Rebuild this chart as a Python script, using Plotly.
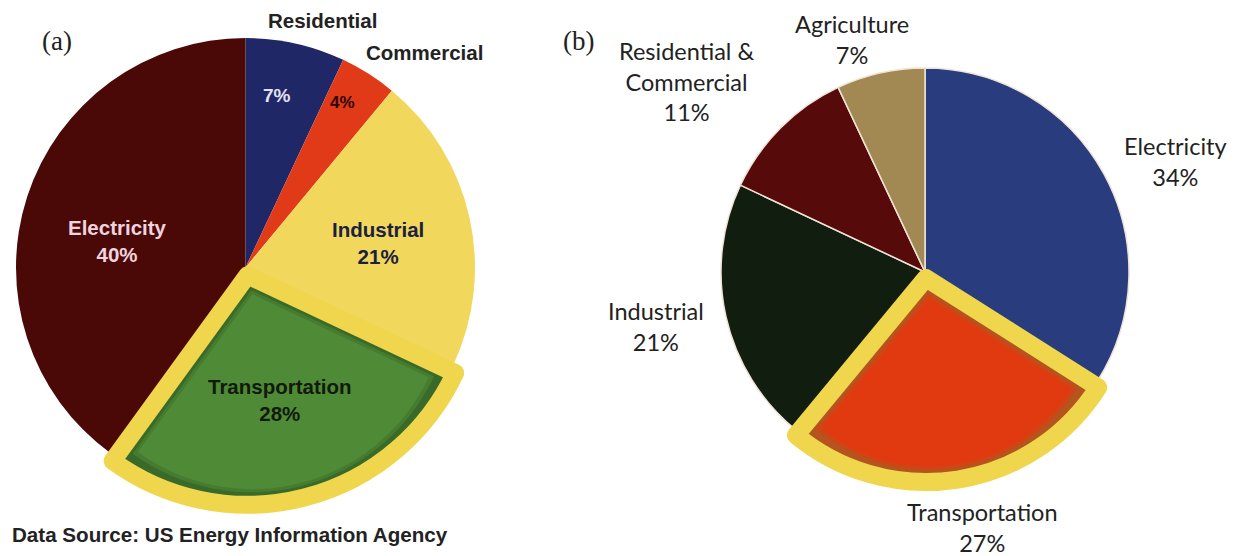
import math
import plotly.graph_objects as go

W, H = 1238, 556

# (a) US greenhouse gas emissions by end-use sector
a_labels = ["Residential", "Commercial", "Industrial", "Transportation", "Electricity"]
a_values = [7, 4, 21, 28, 40]
a_colors = ["#202766", "#e03a18", "#f1d75c", "#4f8a36", "#4a0907"]

# (b) emissions by economic sector
b_labels = ["Electricity", "Transportation", "Industrial", "Residential &<br>Commercial", "Agriculture"]
b_values = [34, 27, 21, 11, 7]
b_colors = ["#283c7e", "#e23a10", "#111d0e", "#560a0a", "#a28953"]

HIGHLIGHT = "Transportation"
HIGHLIGHT_LINE = "#efd64c"
OUTLINE_W = 18
CLEAR = "rgba(0,0,0,0)"


def domain_for(cx, cy, r, pull):
    """Domain that gives a pie of radius r centred at pixel (cx, cy)."""
    half = r * (1 + pull)
    return dict(x=[(cx - half) / W, (cx + half) / W],
                y=[(H - cy - half) / H, (H - cy + half) / H])


def pie(labels, values, dom, pulls, colors, line_colors, line_widths, hover=True):
    return go.Pie(
        labels=labels, values=values, sort=False, direction="clockwise", rotation=0,
        pull=pulls, domain=dom, textinfo="none",
        hoverinfo="label+percent" if hover else "skip",
        marker=dict(colors=colors, line=dict(color=line_colors, width=line_widths)),
        showlegend=False,
    )


def highlighted_pie(labels, values, colors, cx, cy, r, pull, sep_color, sep_width,
                    edge_color, mid_color):
    n = len(labels)
    hi = labels.index(HIGHLIGHT)
    pulls = [pull if i == hi else 0 for i in range(n)]
    only = lambda c: [c if i == hi else CLEAR for i in range(n)]

    traces = [pie(labels, values, domain_for(cx, cy, r, pull), pulls, colors,
                  [sep_color] * n, [sep_width] * n)]
    # highlighted slice on top: darker rim colour plus yellow outline
    traces.append(pie(labels, values, domain_for(cx, cy, r, pull), pulls,
                      only(edge_color), only(HIGHLIGHT_LINE),
                      [OUTLINE_W if i == hi else 0 for i in range(n)], hover=False))
    # inset copies of the same slice give it a soft darker rim
    half_angle = math.pi * values[hi] / sum(values)
    k = 1 / math.sin(half_angle)
    for inset, col in ((OUTLINE_W / 2 + 3, mid_color), (OUTLINE_W / 2 + 6, colors[hi])):
        r2 = r - (1 + k) * inset
        p2 = (pull * r + k * inset) / r2
        traces.append(pie(labels, values, domain_for(cx, cy, r2, p2),
                          [p2 if i == hi else 0 for i in range(n)],
                          only(col), [CLEAR] * n, [0] * n, hover=False))
    return traces


fig = go.Figure()
for t in highlighted_pie(a_labels, a_values, a_colors, 245.5, 267.5, 229.5, 0.035,
                         CLEAR, 0, "#3a6a2a", "#457c30"):
    fig.add_trace(t)
for t in highlighted_pie(b_labels, b_values, b_colors, 925, 272, 204, 0.03,
                         "#efe3d6", 1.5, "#b4541e", "#cf4616"):
    fig.add_trace(t)

annotations = []


def label(x, y, text, size, color, family, bold=False):
    if bold:
        text = f"<b>{text}</b>"
    annotations.append(dict(
        x=x / W, y=1 - y / H, xref="paper", yref="paper", text=text, showarrow=False,
        xanchor="center", yanchor="middle", align="center",
        font=dict(family=family, size=size, color=color),
    ))


ARIAL = "Liberation Sans, Arial, sans-serif"
HUMAN = "Lato, Open Sans, sans-serif"
SERIF = "Liberation Serif, Times New Roman, serif"

av = dict(zip(a_labels, a_values))
bv = dict(zip(b_labels, b_values))

# panel (a)
label(57, 41, "(a)", 27, "#222222", SERIF)
label(322, 21, "Residential", 20.5, "#222222", ARIAL, True)
label(424, 53, "Commercial", 20.5, "#222222", ARIAL, True)
label(277, 95, f"{av['Residential']}%", 19, "#e4e2f2", ARIAL, True)
label(342, 103, f"{av['Commercial']}%", 17, "#2e0603", ARIAL, True)
label(117, 241, f"Electricity<br>{av['Electricity']}%", 20.5, "#efd3de", ARIAL, True)
label(378, 243, f"Industrial<br>{av['Industrial']}%", 20.5, "#1b2040", ARIAL, True)
label(280, 400, f"Transportation<br>{av['Transportation']}%", 20.5, "#111a0c", ARIAL, True)
label(230, 534, "Data Source: US Energy Information Agency", 20.6, "#222222", ARIAL, True)

# panel (b)
label(578, 41, "(b)", 27, "#222222", SERIF)
label(687, 82, f"Residential &amp;<br>Commercial<br>{bv['Residential &<br>Commercial']}%", 23.5, "#222222", HUMAN)
label(852, 39, f"Agriculture<br>{bv['Agriculture']}%", 23.5, "#222222", HUMAN)
label(1175, 161, f"Electricity<br>{bv['Electricity']}%", 23.5, "#222222", HUMAN)
label(656, 326, f"Industrial<br>{bv['Industrial']}%", 23.5, "#222222", HUMAN)
label(982, 527, f"Transportation<br>{bv['Transportation']}%", 23.5, "#222222", HUMAN)

fig.update_layout(
    width=W, height=H, margin=dict(l=0, r=0, t=0, b=0),
    paper_bgcolor="white", plot_bgcolor="white",
    annotations=annotations,
)

fig.write_html("out.html")
